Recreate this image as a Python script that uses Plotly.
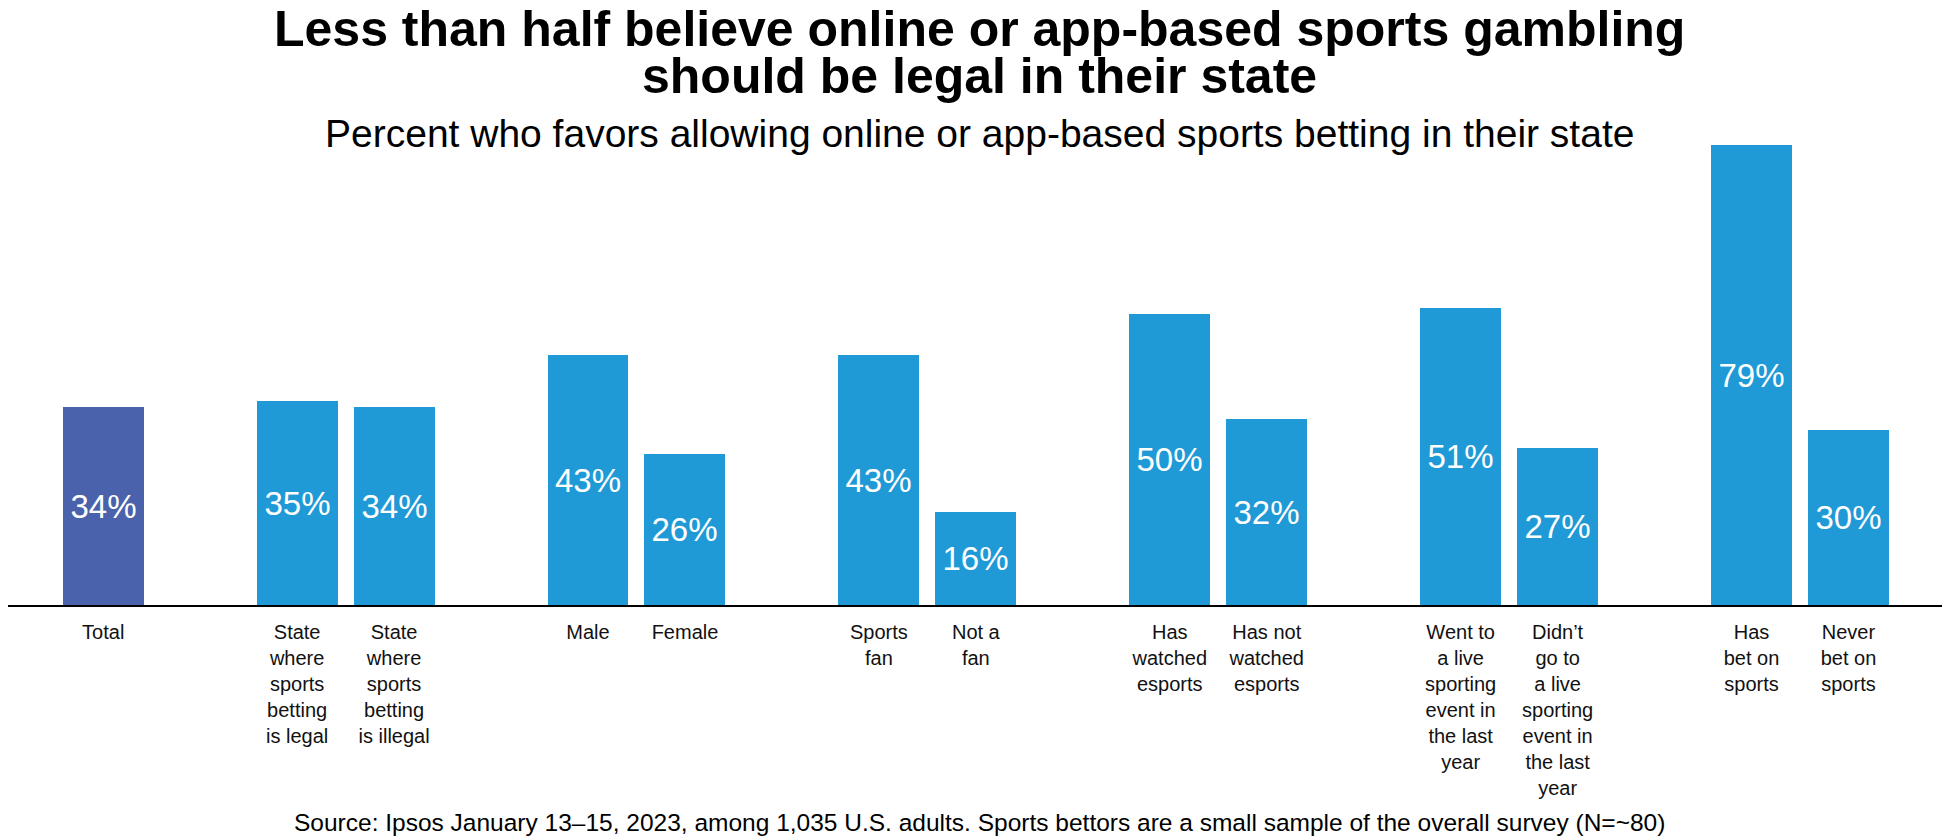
import plotly.graph_objects as go

# ---- data ----
groups = [0, 1, 1, 2, 2, 3, 3, 4, 4, 5, 5, 6, 6]
within = [0, 0, 1, 0, 1, 0, 1, 0, 1, 0, 1, 0, 1]
labels = [
    "Total",
    "State<br>where<br>sports<br>betting<br>is legal",
    "State<br>where<br>sports<br>betting<br>is illegal",
    "Male",
    "Female",
    "Sports<br>fan",
    "Not a<br>fan",
    "Has<br>watched<br>esports",
    "Has not<br>watched<br>esports",
    "Went to<br>a live<br>sporting<br>event in<br>the last<br>year",
    "Didn\u2019t<br>go to<br>a live<br>sporting<br>event in<br>the last<br>year",
    "Has<br>bet on<br>sports",
    "Never<br>bet on<br>sports",
]
values = [34, 35, 34, 43, 26, 43, 16, 50, 32, 51, 27, 79, 30]

title_line1 = "Less than half believe online or app-based sports gambling"
title_line2 = "should be legal in their state"
subtitle = "Percent who favors allowing online or app-based sports betting in their state"
source = ("Source: Ipsos January 13\u201315, 2023, among 1,035 U.S. adults. "
          "Sports bettors are a small sample of the overall survey (N=~80)")

TOTAL_COLOR = "#4A62AB"
BAR_COLOR = "#1F9AD6"

# positions: total alone, then pairs separated by an empty slot
xpos = [0 if g == 0 else 3 * g - 1 + w for g, w in zip(groups, within)]
colors = [TOTAL_COLOR if g == 0 else BAR_COLOR for g in groups]

FONT = "Liberation Sans, Arial, sans-serif"

fig = go.Figure(
    go.Bar(
        x=xpos,
        y=values,
        width=0.835,
        marker=dict(color=colors, line=dict(width=0)),
        text=[f"{v}%" for v in values],
        textposition="inside",
        insidetextanchor="middle",
        constraintext="none",
        textfont=dict(family=FONT, size=33, color="white"),
        hoverinfo="skip",
    )
)

fig.update_layout(
    width=1942,
    height=832,
    margin=dict(l=0, r=0, t=120, b=235),
    paper_bgcolor="white",
    plot_bgcolor="white",
    showlegend=False,
    bargap=0,
    xaxis=dict(
        range=[-0.982, 19.047],
        tickmode="array",
        tickvals=xpos,
        ticktext=labels,
        tickfont=dict(family=FONT, size=20, color="#111111"),
        showline=True,
        linecolor="black",
        linewidth=1.5,
        ticks="",
        showgrid=False,
        zeroline=False,
        fixedrange=True,
        ticklabelstandoff=8,
    ),
    yaxis=dict(
        range=[0, 82],
        visible=False,
        showgrid=False,
        zeroline=False,
        fixedrange=True,
    ),
    annotations=[
        dict(text=f"<b>{title_line1}</b>", x=0.5, y=1.207, xref="paper", yref="paper",
             xanchor="center", yanchor="middle", showarrow=False,
             font=dict(family=FONT, size=50, color="black")),
        dict(text=f"<b>{title_line2}</b>", x=0.5, y=1.108, xref="paper", yref="paper",
             xanchor="center", yanchor="middle", showarrow=False,
             font=dict(family=FONT, size=50, color="black")),
        dict(text=subtitle, x=0.5, y=0.9895, xref="paper", yref="paper",
             xanchor="center", yanchor="middle", showarrow=False,
             font=dict(family=FONT, size=39, color="black")),
        dict(text=source, x=0.5, y=-0.456, xref="paper", yref="paper",
             xanchor="center", yanchor="middle", showarrow=False,
             font=dict(family=FONT, size=24.5, color="black")),
    ],
)

fig.write_html("out.html")
